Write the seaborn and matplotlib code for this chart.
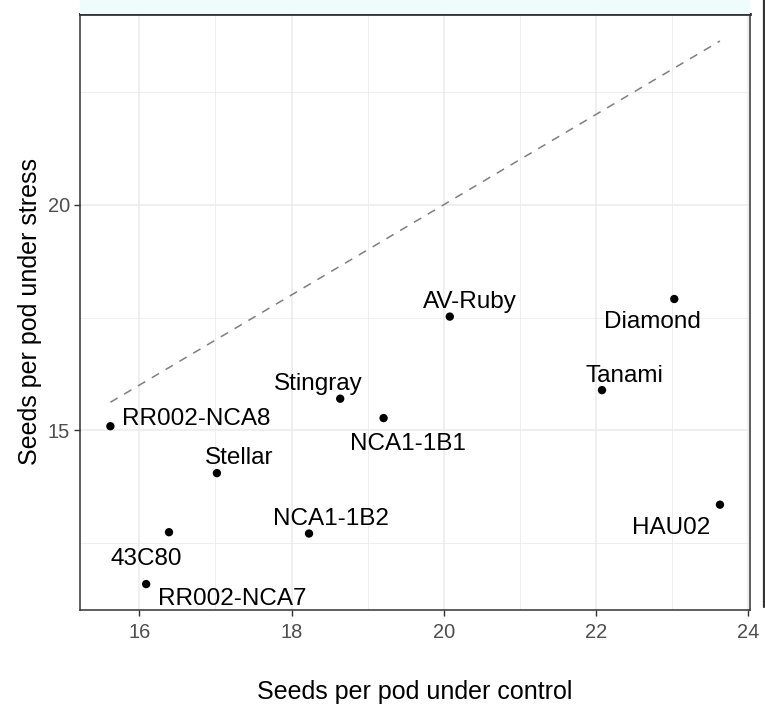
import matplotlib
matplotlib.use("Agg")
import matplotlib.pyplot as plt
from matplotlib.patches import Rectangle
from matplotlib.lines import Line2D
from matplotlib.ticker import MultipleLocator
import numpy as np
import pandas as pd
import seaborn as sns

# Seeds per pod for each cultivar
cultivars = ["RR002-NCA8", "Stingray", "NCA1-1B1", "Stellar", "NCA1-1B2",
             "43C80", "RR002-NCA7", "AV-Ruby", "Diamond", "Tanami", "HAU02"]
control = [15.62, 18.64, 19.21, 17.02, 18.23, 16.39, 16.09, 20.08, 23.03, 22.08, 23.63]
stress = [15.09, 15.70, 15.27, 14.05, 12.71, 12.74, 11.59, 17.52, 17.91, 15.89, 13.35]

x_ticks = [16, 18, 20, 22, 24]
y_ticks = [15, 20]

# label placement: (dx, dy) in pixels from the point, horizontal alignment
label_layout = {
    "RR002-NCA8": (12, 1, "left"),
    "Stingray": (-22, 9, "center"),
    "NCA1-1B1": (24, -32, "center"),
    "Stellar": (22, 9, "center"),
    "NCA1-1B2": (22, 9, "center"),
    "43C80": (-23, -33, "center"),
    "RR002-NCA7": (12, -21, "left"),
    "AV-Ruby": (20, 9, "center"),
    "Diamond": (-22, -29, "center"),
    "Tanami": (22, 8, "center"),
    "HAU02": (-49, -29, "center"),
}

df = pd.DataFrame({"cultivar": cultivars, "control": control, "stress": stress})

sns.set_theme(style="white")
plt.rcParams["font.family"] = ["Liberation Sans", "DejaVu Sans"]

W, H = 765, 712
fig = plt.figure(figsize=(W / 100, H / 100), dpi=100)
ax_left, ax_right, ax_top, ax_bottom = 79.8, 750, 13.5, 610
ax = fig.add_axes([ax_left / W, 1 - ax_bottom / H,
                   (ax_right - ax_left) / W, (ax_bottom - ax_top) / H])

# strip band above the panel and the neighbouring panel edge
fig.patches.append(Rectangle((ax_left / W, 1 - ax_top / H), (ax_right - ax_left) / W,
                             ax_top / H, transform=fig.transFigure,
                             facecolor="#EFFCFC", edgecolor="none", zorder=0))
fig.lines.append(Line2D([764 / W, 764 / W], [1, 1 - 607 / H], transform=fig.transFigure,
                        color="#333333", linewidth=1.6))

ax.set_xlim(15.218, 24.025)
ax.set_ylim(11.015, 24.24)

# grid
ax.xaxis.set_major_locator(MultipleLocator(2))
ax.xaxis.set_minor_locator(MultipleLocator(1))
ax.yaxis.set_major_locator(MultipleLocator(5))
ax.yaxis.set_minor_locator(MultipleLocator(2.5))
ax.set_xticks(x_ticks)
ax.set_yticks(y_ticks)
ax.grid(which="major", color="#EBEBEB", linewidth=1.1, zorder=0)
ax.grid(which="minor", color="#EBEBEB", linewidth=0.6, zorder=0)
ax.set_axisbelow(True)
ax.tick_params(which="minor", length=0)
ax.tick_params(which="major", length=4, width=1.0, color="#333333",
               labelcolor="#4D4D4D", labelsize=14.4, pad=3,
               bottom=True, left=True)
ax.tick_params(axis="x", which="major", pad=5)

# 1:1 reference line across the range of control values
xs = np.array([min(control), max(control)])
ax.plot(xs, xs, color="#7F7F7F", linewidth=1.1, linestyle=(0, (5.5, 5)), zorder=2)

sns.scatterplot(data=df, x="control", y="stress", ax=ax, color="black",
                s=36, edgecolor="none", zorder=3, legend=False)

for name, xv, yv in zip(cultivars, control, stress):
    dx, dy, ha = label_layout[name]
    ax.annotate(name, (xv, yv), xytext=(dx, dy), textcoords="offset pixels",
                ha=ha, va="baseline", fontsize=17.5, color="black", zorder=4)

for side, sp in ax.spines.items():
    sp.set_color("#333333")
    sp.set_linewidth(1.1)
ax.spines["top"].set_linewidth(2.0)

ax.set_xlabel("Seeds per pod under control", fontsize=18, color="black", labelpad=28)
ax.set_ylabel("Seeds per pod under stress", fontsize=18, color="black", labelpad=4)

fig.savefig("out.png", dpi=100)
